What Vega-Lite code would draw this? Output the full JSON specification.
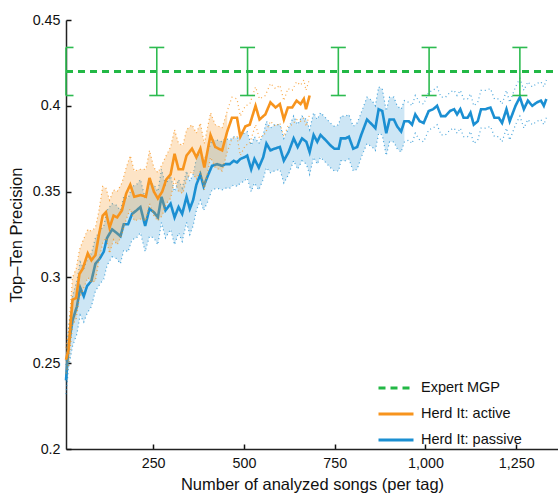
{
 "$schema": "https://vega.github.io/schema/vega-lite/v6.json",
 "width": 492,
 "height": 429,
 "autosize": {"type": "none"},
 "padding": {"left": 66, "top": 20, "right": 0, "bottom": 45},
 "background": "white",
 "config": {
  "view": {"stroke": null},
  "font": "Liberation Sans",
  "axis": {"grid": false, "domainColor": "#222", "domainWidth": 1.5, "tickColor": "#111", "tickWidth": 1.5, "tickSize": -5, "labelFontSize": 14.3, "labelColor": "#111", "titleFontSize": 16.5, "titleFontWeight": "normal", "titleColor": "#111"},
  "legend": {"orient": "none", "legendX": 311, "legendY": 349, "symbolType": "stroke", "symbolSize": 1225, "symbolStrokeWidth": 3, "labelFontSize": 14.5, "labelColor": "#111", "rowPadding": -18, "padding": 0, "labelOffset": 6}
 },
 "datasets": {
  "curves": [
   {"s":"Herd It: active","x":10,"y":0.252,"lo":0.244,"hi":0.259},
   {"s":"Herd It: active","x":17,"y":0.258,"lo":0.249,"hi":0.268},
   {"s":"Herd It: active","x":28,"y":0.287,"lo":0.272,"hi":0.300},
   {"s":"Herd It: active","x":38,"y":0.288,"lo":0.276,"hi":0.305},
   {"s":"Herd It: active","x":47,"y":0.302,"lo":0.288,"hi":0.316},
   {"s":"Herd It: active","x":56,"y":0.305,"lo":0.292,"hi":0.321},
   {"s":"Herd It: active","x":70,"y":0.314,"lo":0.300,"hi":0.328},
   {"s":"Herd It: active","x":80,"y":0.310,"lo":0.297,"hi":0.327},
   {"s":"Herd It: active","x":91,"y":0.313,"lo":0.298,"hi":0.329},
   {"s":"Herd It: active","x":100,"y":0.324,"lo":0.309,"hi":0.338},
   {"s":"Herd It: active","x":111,"y":0.336,"lo":0.320,"hi":0.353},
   {"s":"Herd It: active","x":120,"y":0.338,"lo":0.323,"hi":0.352},
   {"s":"Herd It: active","x":130,"y":0.329,"lo":0.314,"hi":0.345},
   {"s":"Herd It: active","x":141,"y":0.336,"lo":0.322,"hi":0.351},
   {"s":"Herd It: active","x":151,"y":0.335,"lo":0.319,"hi":0.350},
   {"s":"Herd It: active","x":164,"y":0.339,"lo":0.325,"hi":0.355},
   {"s":"Herd It: active","x":176,"y":0.349,"lo":0.334,"hi":0.364},
   {"s":"Herd It: active","x":187,"y":0.354,"lo":0.340,"hi":0.371},
   {"s":"Herd It: active","x":198,"y":0.347,"lo":0.333,"hi":0.362},
   {"s":"Herd It: active","x":215,"y":0.348,"lo":0.334,"hi":0.363},
   {"s":"Herd It: active","x":230,"y":0.347,"lo":0.333,"hi":0.363},
   {"s":"Herd It: active","x":240,"y":0.358,"lo":0.343,"hi":0.374},
   {"s":"Herd It: active","x":252,"y":0.350,"lo":0.336,"hi":0.364},
   {"s":"Herd It: active","x":263,"y":0.346,"lo":0.333,"hi":0.361},
   {"s":"Herd It: active","x":275,"y":0.350,"lo":0.336,"hi":0.366},
   {"s":"Herd It: active","x":286,"y":0.357,"lo":0.343,"hi":0.371},
   {"s":"Herd It: active","x":298,"y":0.360,"lo":0.346,"hi":0.376},
   {"s":"Herd It: active","x":309,"y":0.372,"lo":0.357,"hi":0.386},
   {"s":"Herd It: active","x":320,"y":0.363,"lo":0.350,"hi":0.378},
   {"s":"Herd It: active","x":332,"y":0.363,"lo":0.349,"hi":0.377},
   {"s":"Herd It: active","x":342,"y":0.371,"lo":0.357,"hi":0.386},
   {"s":"Herd It: active","x":357,"y":0.375,"lo":0.362,"hi":0.389},
   {"s":"Herd It: active","x":369,"y":0.370,"lo":0.357,"hi":0.384},
   {"s":"Herd It: active","x":380,"y":0.375,"lo":0.362,"hi":0.390},
   {"s":"Herd It: active","x":391,"y":0.364,"lo":0.351,"hi":0.378},
   {"s":"Herd It: active","x":408,"y":0.383,"lo":0.370,"hi":0.396},
   {"s":"Herd It: active","x":421,"y":0.376,"lo":0.364,"hi":0.389},
   {"s":"Herd It: active","x":440,"y":0.374,"lo":0.362,"hi":0.387},
   {"s":"Herd It: active","x":454,"y":0.385,"lo":0.373,"hi":0.397},
   {"s":"Herd It: active","x":467,"y":0.393,"lo":0.381,"hi":0.405},
   {"s":"Herd It: active","x":481,"y":0.393,"lo":0.382,"hi":0.404},
   {"s":"Herd It: active","x":490,"y":0.382,"lo":0.371,"hi":0.394},
   {"s":"Herd It: active","x":504,"y":0.388,"lo":0.377,"hi":0.400},
   {"s":"Herd It: active","x":516,"y":0.389,"lo":0.378,"hi":0.401},
   {"s":"Herd It: active","x":532,"y":0.400,"lo":0.389,"hi":0.411},
   {"s":"Herd It: active","x":543,"y":0.392,"lo":0.381,"hi":0.404},
   {"s":"Herd It: active","x":559,"y":0.395,"lo":0.384,"hi":0.406},
   {"s":"Herd It: active","x":573,"y":0.402,"lo":0.391,"hi":0.413},
   {"s":"Herd It: active","x":587,"y":0.399,"lo":0.388,"hi":0.410},
   {"s":"Herd It: active","x":599,"y":0.401,"lo":0.390,"hi":0.412},
   {"s":"Herd It: active","x":610,"y":0.392,"lo":0.382,"hi":0.403},
   {"s":"Herd It: active","x":621,"y":0.399,"lo":0.388,"hi":0.410},
   {"s":"Herd It: active","x":633,"y":0.399,"lo":0.389,"hi":0.409},
   {"s":"Herd It: active","x":645,"y":0.403,"lo":0.392,"hi":0.414},
   {"s":"Herd It: active","x":656,"y":0.401,"lo":0.391,"hi":0.412},
   {"s":"Herd It: active","x":665,"y":0.404,"lo":0.393,"hi":0.415},
   {"s":"Herd It: active","x":671,"y":0.398,"lo":0.388,"hi":0.409},
   {"s":"Herd It: active","x":681,"y":0.406,"lo":0.395,"hi":0.416},
   {"s":"Herd It: passive","x":10,"y":0.240,"lo":0.232,"hi":0.249},
   {"s":"Herd It: passive","x":17,"y":0.260,"lo":0.247,"hi":0.270},
   {"s":"Herd It: passive","x":28,"y":0.275,"lo":0.260,"hi":0.289},
   {"s":"Herd It: passive","x":40,"y":0.283,"lo":0.267,"hi":0.298},
   {"s":"Herd It: passive","x":49,"y":0.294,"lo":0.278,"hi":0.309},
   {"s":"Herd It: passive","x":59,"y":0.289,"lo":0.274,"hi":0.305},
   {"s":"Herd It: passive","x":68,"y":0.295,"lo":0.279,"hi":0.310},
   {"s":"Herd It: passive","x":80,"y":0.298,"lo":0.283,"hi":0.314},
   {"s":"Herd It: passive","x":91,"y":0.308,"lo":0.292,"hi":0.323},
   {"s":"Herd It: passive","x":103,"y":0.311,"lo":0.296,"hi":0.327},
   {"s":"Herd It: passive","x":114,"y":0.315,"lo":0.299,"hi":0.330},
   {"s":"Herd It: passive","x":123,"y":0.323,"lo":0.307,"hi":0.339},
   {"s":"Herd It: passive","x":137,"y":0.328,"lo":0.312,"hi":0.343},
   {"s":"Herd It: passive","x":149,"y":0.326,"lo":0.311,"hi":0.342},
   {"s":"Herd It: passive","x":160,"y":0.324,"lo":0.308,"hi":0.339},
   {"s":"Herd It: passive","x":169,"y":0.331,"lo":0.316,"hi":0.347},
   {"s":"Herd It: passive","x":181,"y":0.331,"lo":0.315,"hi":0.346},
   {"s":"Herd It: passive","x":192,"y":0.337,"lo":0.322,"hi":0.353},
   {"s":"Herd It: passive","x":204,"y":0.339,"lo":0.323,"hi":0.354},
   {"s":"Herd It: passive","x":215,"y":0.341,"lo":0.326,"hi":0.357},
   {"s":"Herd It: passive","x":228,"y":0.330,"lo":0.315,"hi":0.346},
   {"s":"Herd It: passive","x":240,"y":0.340,"lo":0.324,"hi":0.355},
   {"s":"Herd It: passive","x":252,"y":0.338,"lo":0.323,"hi":0.354},
   {"s":"Herd It: passive","x":263,"y":0.335,"lo":0.319,"hi":0.350},
   {"s":"Herd It: passive","x":273,"y":0.347,"lo":0.332,"hi":0.363},
   {"s":"Herd It: passive","x":284,"y":0.339,"lo":0.323,"hi":0.354},
   {"s":"Herd It: passive","x":298,"y":0.343,"lo":0.328,"hi":0.359},
   {"s":"Herd It: passive","x":309,"y":0.335,"lo":0.319,"hi":0.350},
   {"s":"Herd It: passive","x":320,"y":0.341,"lo":0.326,"hi":0.357},
   {"s":"Herd It: passive","x":330,"y":0.337,"lo":0.321,"hi":0.352},
   {"s":"Herd It: passive","x":342,"y":0.347,"lo":0.332,"hi":0.362},
   {"s":"Herd It: passive","x":351,"y":0.340,"lo":0.325,"hi":0.356},
   {"s":"Herd It: passive","x":360,"y":0.345,"lo":0.330,"hi":0.360},
   {"s":"Herd It: passive","x":369,"y":0.354,"lo":0.339,"hi":0.369},
   {"s":"Herd It: passive","x":380,"y":0.360,"lo":0.345,"hi":0.374},
   {"s":"Herd It: passive","x":389,"y":0.353,"lo":0.339,"hi":0.368},
   {"s":"Herd It: passive","x":400,"y":0.359,"lo":0.344,"hi":0.373},
   {"s":"Herd It: passive","x":412,"y":0.365,"lo":0.351,"hi":0.380},
   {"s":"Herd It: passive","x":426,"y":0.366,"lo":0.352,"hi":0.380},
   {"s":"Herd It: passive","x":440,"y":0.365,"lo":0.351,"hi":0.379},
   {"s":"Herd It: passive","x":449,"y":0.366,"lo":0.352,"hi":0.381},
   {"s":"Herd It: passive","x":461,"y":0.366,"lo":0.352,"hi":0.380},
   {"s":"Herd It: passive","x":472,"y":0.368,"lo":0.354,"hi":0.382},
   {"s":"Herd It: passive","x":481,"y":0.367,"lo":0.353,"hi":0.381},
   {"s":"Herd It: passive","x":490,"y":0.369,"lo":0.355,"hi":0.383},
   {"s":"Herd It: passive","x":501,"y":0.370,"lo":0.356,"hi":0.384},
   {"s":"Herd It: passive","x":509,"y":0.371,"lo":0.358,"hi":0.385},
   {"s":"Herd It: passive","x":520,"y":0.363,"lo":0.350,"hi":0.377},
   {"s":"Herd It: passive","x":529,"y":0.369,"lo":0.355,"hi":0.382},
   {"s":"Herd It: passive","x":541,"y":0.364,"lo":0.351,"hi":0.378},
   {"s":"Herd It: passive","x":553,"y":0.370,"lo":0.357,"hi":0.383},
   {"s":"Herd It: passive","x":562,"y":0.378,"lo":0.364,"hi":0.391},
   {"s":"Herd It: passive","x":573,"y":0.374,"lo":0.361,"hi":0.387},
   {"s":"Herd It: passive","x":584,"y":0.375,"lo":0.362,"hi":0.389},
   {"s":"Herd It: passive","x":599,"y":0.376,"lo":0.363,"hi":0.389},
   {"s":"Herd It: passive","x":610,"y":0.368,"lo":0.355,"hi":0.381},
   {"s":"Herd It: passive","x":623,"y":0.373,"lo":0.360,"hi":0.387},
   {"s":"Herd It: passive","x":637,"y":0.381,"lo":0.368,"hi":0.394},
   {"s":"Herd It: passive","x":648,"y":0.376,"lo":0.363,"hi":0.389},
   {"s":"Herd It: passive","x":660,"y":0.381,"lo":0.368,"hi":0.394},
   {"s":"Herd It: passive","x":672,"y":0.379,"lo":0.366,"hi":0.392},
   {"s":"Herd It: passive","x":681,"y":0.373,"lo":0.360,"hi":0.386},
   {"s":"Herd It: passive","x":692,"y":0.383,"lo":0.370,"hi":0.396},
   {"s":"Herd It: passive","x":702,"y":0.379,"lo":0.366,"hi":0.392},
   {"s":"Herd It: passive","x":711,"y":0.383,"lo":0.370,"hi":0.396},
   {"s":"Herd It: passive","x":725,"y":0.380,"lo":0.367,"hi":0.393},
   {"s":"Herd It: passive","x":738,"y":0.377,"lo":0.364,"hi":0.390},
   {"s":"Herd It: passive","x":749,"y":0.375,"lo":0.362,"hi":0.388},
   {"s":"Herd It: passive","x":761,"y":0.375,"lo":0.362,"hi":0.389},
   {"s":"Herd It: passive","x":767,"y":0.381,"lo":0.368,"hi":0.394},
   {"s":"Herd It: passive","x":780,"y":0.381,"lo":0.368,"hi":0.394},
   {"s":"Herd It: passive","x":789,"y":0.382,"lo":0.369,"hi":0.395},
   {"s":"Herd It: passive","x":801,"y":0.375,"lo":0.362,"hi":0.388},
   {"s":"Herd It: passive","x":812,"y":0.376,"lo":0.363,"hi":0.390},
   {"s":"Herd It: passive","x":823,"y":0.383,"lo":0.370,"hi":0.396},
   {"s":"Herd It: passive","x":839,"y":0.392,"lo":0.378,"hi":0.405},
   {"s":"Herd It: passive","x":853,"y":0.389,"lo":0.376,"hi":0.403},
   {"s":"Herd It: passive","x":862,"y":0.387,"lo":0.374,"hi":0.400},
   {"s":"Herd It: passive","x":871,"y":0.398,"lo":0.384,"hi":0.411},
   {"s":"Herd It: passive","x":881,"y":0.397,"lo":0.383,"hi":0.410},
   {"s":"Herd It: passive","x":892,"y":0.384,"lo":0.371,"hi":0.397},
   {"s":"Herd It: passive","x":901,"y":0.392,"lo":0.379,"hi":0.405},
   {"s":"Herd It: passive","x":913,"y":0.392,"lo":0.379,"hi":0.405},
   {"s":"Herd It: passive","x":922,"y":0.388,"lo":0.375,"hi":0.400},
   {"s":"Herd It: passive","x":933,"y":0.385,"lo":0.373,"hi":0.398},
   {"s":"Herd It: passive","x":942,"y":0.391,"lo":0.379,"hi":0.403},
   {"s":"Herd It: passive","x":954,"y":0.391,"lo":0.380,"hi":0.402},
   {"s":"Herd It: passive","x":963,"y":0.389,"lo":0.378,"hi":0.400},
   {"s":"Herd It: passive","x":972,"y":0.395,"lo":0.384,"hi":0.406},
   {"s":"Herd It: passive","x":984,"y":0.391,"lo":0.380,"hi":0.402},
   {"s":"Herd It: passive","x":995,"y":0.390,"lo":0.379,"hi":0.401},
   {"s":"Herd It: passive","x":1009,"y":0.397,"lo":0.386,"hi":0.408},
   {"s":"Herd It: passive","x":1021,"y":0.398,"lo":0.387,"hi":0.409},
   {"s":"Herd It: passive","x":1032,"y":0.400,"lo":0.389,"hi":0.411},
   {"s":"Herd It: passive","x":1043,"y":0.394,"lo":0.383,"hi":0.405},
   {"s":"Herd It: passive","x":1055,"y":0.394,"lo":0.383,"hi":0.405},
   {"s":"Herd It: passive","x":1068,"y":0.397,"lo":0.386,"hi":0.408},
   {"s":"Herd It: passive","x":1079,"y":0.398,"lo":0.387,"hi":0.409},
   {"s":"Herd It: passive","x":1087,"y":0.395,"lo":0.384,"hi":0.406},
   {"s":"Herd It: passive","x":1096,"y":0.398,"lo":0.387,"hi":0.409},
   {"s":"Herd It: passive","x":1105,"y":0.393,"lo":0.382,"hi":0.404},
   {"s":"Herd It: passive","x":1116,"y":0.393,"lo":0.382,"hi":0.404},
   {"s":"Herd It: passive","x":1124,"y":0.396,"lo":0.385,"hi":0.407},
   {"s":"Herd It: passive","x":1133,"y":0.389,"lo":0.378,"hi":0.400},
   {"s":"Herd It: passive","x":1144,"y":0.391,"lo":0.380,"hi":0.402},
   {"s":"Herd It: passive","x":1153,"y":0.398,"lo":0.387,"hi":0.409},
   {"s":"Herd It: passive","x":1165,"y":0.398,"lo":0.387,"hi":0.409},
   {"s":"Herd It: passive","x":1179,"y":0.399,"lo":0.388,"hi":0.410},
   {"s":"Herd It: passive","x":1190,"y":0.393,"lo":0.382,"hi":0.404},
   {"s":"Herd It: passive","x":1202,"y":0.393,"lo":0.382,"hi":0.404},
   {"s":"Herd It: passive","x":1211,"y":0.390,"lo":0.379,"hi":0.401},
   {"s":"Herd It: passive","x":1223,"y":0.398,"lo":0.387,"hi":0.409},
   {"s":"Herd It: passive","x":1232,"y":0.391,"lo":0.380,"hi":0.402},
   {"s":"Herd It: passive","x":1248,"y":0.400,"lo":0.389,"hi":0.411},
   {"s":"Herd It: passive","x":1260,"y":0.405,"lo":0.394,"hi":0.416},
   {"s":"Herd It: passive","x":1271,"y":0.398,"lo":0.387,"hi":0.409},
   {"s":"Herd It: passive","x":1282,"y":0.403,"lo":0.392,"hi":0.414},
   {"s":"Herd It: passive","x":1294,"y":0.400,"lo":0.389,"hi":0.411},
   {"s":"Herd It: passive","x":1307,"y":0.402,"lo":0.391,"hi":0.413},
   {"s":"Herd It: passive","x":1318,"y":0.403,"lo":0.392,"hi":0.414},
   {"s":"Herd It: passive","x":1326,"y":0.400,"lo":0.389,"hi":0.411},
   {"s":"Herd It: passive","x":1333,"y":0.404,"lo":0.393,"hi":0.415}
  ],
  "mgp": [
   {"s":"Expert MGP","x":10,"y":0.42},
   {"s":"Expert MGP","x":1365,"y":0.42}
  ],
  "err": [
   {"x":10,"y":0.42,"lo":0.406,"hi":0.434},
   {"x":260,"y":0.42,"lo":0.406,"hi":0.434},
   {"x":510,"y":0.42,"lo":0.406,"hi":0.434},
   {"x":760,"y":0.42,"lo":0.406,"hi":0.434},
   {"x":1010,"y":0.42,"lo":0.406,"hi":0.434},
   {"x":1260,"y":0.42,"lo":0.406,"hi":0.434}
  ]
 },
 "data": {"name": "curves"},
 "encoding": {
  "x": {"field": "x", "type": "quantitative", "scale": {"domain": [10, 1365], "nice": false, "zero": false},
        "axis": {"values": [250, 500, 750, 1000, 1250], "format": ",.0f", "labelPadding": 12, "titlePadding": 6, "title": "Number of analyzed songs (per tag)"}}
 },
 "layer": [
  {"transform": [{"filter": "datum.s === 'Herd It: passive' && datum.x <= 942"}],
   "mark": {"type": "area", "color": "#1b8fd2", "opacity": 0.22},
   "encoding": {"y": {"field": "lo", "type": "quantitative", "title": "Top–Ten Precision", "scale": {"domain": [0.2, 0.45], "nice": false, "zero": false},
                      "axis": {"values": [0.2, 0.25, 0.3, 0.35, 0.4, 0.45], "format": ".2~f", "labelPadding": 11, "titlePadding": 8}},
                "y2": {"field": "hi"}}},
  {"transform": [{"filter": "datum.s === 'Herd It: passive'"}],
   "mark": {"type": "line", "color": "#1b8fd2", "strokeDash": [1, 3], "strokeWidth": 1.2, "opacity": 0.8},
   "encoding": {"y": {"field": "lo", "type": "quantitative", "title": "Top–Ten Precision"}}},
  {"transform": [{"filter": "datum.s === 'Herd It: passive'"}],
   "mark": {"type": "line", "color": "#1b8fd2", "strokeDash": [1, 3], "strokeWidth": 1.2, "opacity": 0.8},
   "encoding": {"y": {"field": "hi", "type": "quantitative", "title": "Top–Ten Precision"}}},
  {"transform": [{"filter": "datum.s === 'Herd It: passive'"}],
   "mark": {"type": "line", "strokeWidth": 2.6},
   "encoding": {"y": {"field": "y", "type": "quantitative", "title": "Top–Ten Precision"},
                "color": {"field": "s", "type": "nominal", "title": null, "scale": {"domain": ["Expert MGP", "Herd It: active", "Herd It: passive"], "range": ["#22b845", "#f7941d", "#1b8fd2"]}},
                "strokeDash": {"field": "s", "type": "nominal", "title": null, "scale": {"domain": ["Expert MGP", "Herd It: active", "Herd It: passive"], "range": [[7, 5], [1, 0], [1, 0]]}}}},
  {"transform": [{"filter": "datum.s === 'Herd It: active' && datum.x <= 454"}],
   "mark": {"type": "area", "color": "#f7941d", "opacity": 0.25},
   "encoding": {"y": {"field": "lo", "type": "quantitative", "title": "Top–Ten Precision"}, "y2": {"field": "hi"}}},
  {"transform": [{"filter": "datum.s === 'Herd It: active'"}],
   "mark": {"type": "line", "color": "#f7941d", "strokeDash": [1, 3], "strokeWidth": 1.2, "opacity": 0.8},
   "encoding": {"y": {"field": "lo", "type": "quantitative", "title": "Top–Ten Precision"}}},
  {"transform": [{"filter": "datum.s === 'Herd It: active'"}],
   "mark": {"type": "line", "color": "#f7941d", "strokeDash": [1, 3], "strokeWidth": 1.2, "opacity": 0.8},
   "encoding": {"y": {"field": "hi", "type": "quantitative", "title": "Top–Ten Precision"}}},
  {"transform": [{"filter": "datum.s === 'Herd It: active'"}],
   "mark": {"type": "line", "strokeWidth": 2.6},
   "encoding": {"y": {"field": "y", "type": "quantitative", "title": "Top–Ten Precision"},
                "color": {"field": "s", "type": "nominal", "title": null},
                "strokeDash": {"field": "s", "type": "nominal", "title": null}}},
  {"data": {"name": "mgp"},
   "mark": {"type": "line", "strokeWidth": 3},
   "encoding": {"y": {"field": "y", "type": "quantitative", "title": "Top–Ten Precision"},
                "color": {"field": "s", "type": "nominal", "title": null},
                "strokeDash": {"field": "s", "type": "nominal", "title": null}}},
  {"data": {"name": "err"},
   "mark": {"type": "rule", "color": "#2dbb50", "strokeWidth": 1.6},
   "encoding": {"y": {"field": "lo", "type": "quantitative", "title": "Top–Ten Precision"}, "y2": {"field": "hi"}}},
  {"data": {"name": "err"},
   "mark": {"type": "tick", "orient": "horizontal", "color": "#2dbb50", "size": 15, "thickness": 1.6, "opacity": 1, "clip": true},
   "encoding": {"y": {"field": "lo", "type": "quantitative", "title": "Top–Ten Precision"}}},
  {"data": {"name": "err"},
   "mark": {"type": "tick", "orient": "horizontal", "color": "#2dbb50", "size": 15, "thickness": 1.6, "opacity": 1, "clip": true},
   "encoding": {"y": {"field": "hi", "type": "quantitative", "title": "Top–Ten Precision"}}}
 ]
}
